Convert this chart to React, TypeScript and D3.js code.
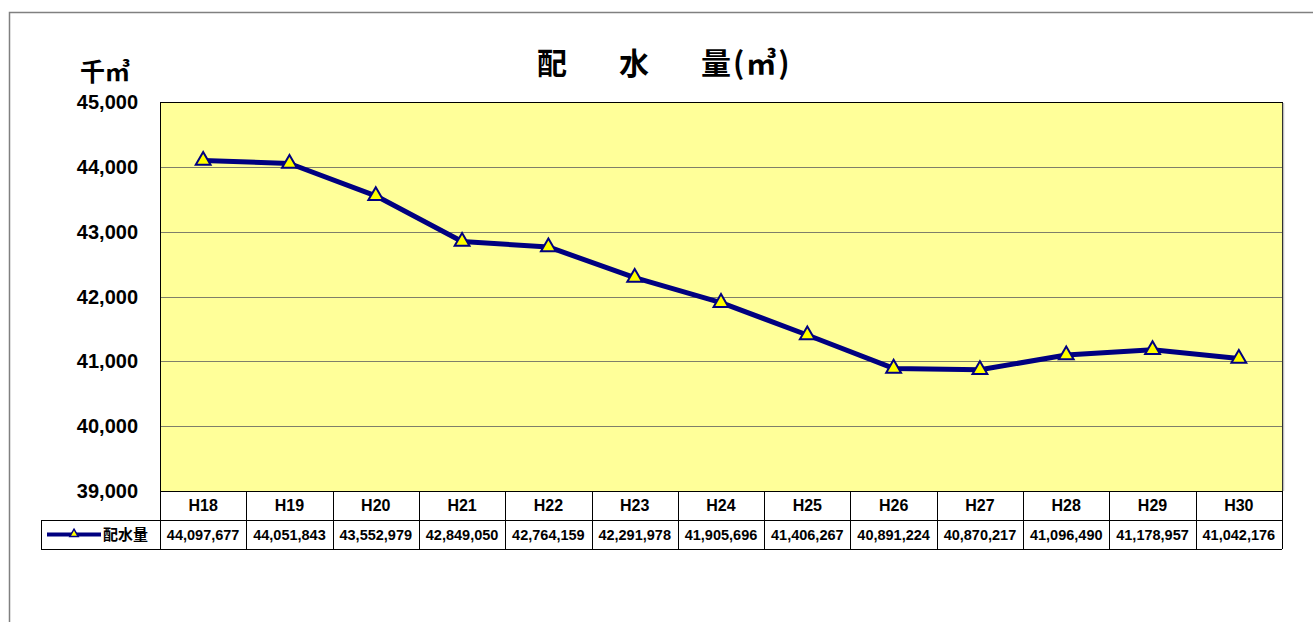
import * as d3 from "d3";

const years = ["H18", "H19", "H20", "H21", "H22", "H23", "H24", "H25", "H26", "H27", "H28", "H29", "H30"];
const haisui = [44097677, 44051843, 43552979, 42849050, 42764159, 42291978, 41905696, 41406267, 40891224, 40870217, 41096490, 41178957, 41042176];
const yTicks = [39000, 40000, 41000, 42000, 43000, 44000, 45000];
const seriesName = "配水量";

const W = 1313;
const H = 622;
const plot = { left: 160, right: 1282, top: 102, bottom: 491 };
const rowH = 29;
const legendLeft = 41;
const numFont = "'Liberation Sans', Arial, sans-serif";
const jpFont = "'Noto Sans CJK JP', sans-serif";
const navy = "#000080";

export default function App() {
  const x = d3.scaleBand().domain(years).range([plot.left, plot.right]);
  const y = d3.scaleLinear().domain([39000, 45000]).range([plot.bottom, plot.top]);
  const fmt = d3.format(",");
  const cx = (d: string) => x(d)! + x.bandwidth() / 2;

  const line = d3
    .line<number>()
    .x((_, i) => cx(years[i]))
    .y((v) => y(v / 1000));

  const tri = d3.symbol().type(d3.symbolTriangle).size(95)();
  const triSmall = d3.symbol().type(d3.symbolTriangle).size(30)();

  const row1 = plot.bottom;
  const row2 = plot.bottom + rowH;
  const row3 = plot.bottom + rowH * 2;

  return (
    <svg width={W} height={H} style={{ position: "fixed", left: 0, top: 0, background: "#fff" }}>
      {/* outer frame */}
      <path d={`M9.5,${H} V12.5 H${W}`} fill="none" stroke="#808080" strokeWidth={1.5} />

      {/* title */}
      <g fontFamily={jpFont} fontWeight="bold" fontSize={30} fill="#000">
        <text x={552} y={74} textAnchor="middle">配</text>
        <text x={634} y={74} textAnchor="middle">水</text>
        <text x={701} y={74} letterSpacing={2}>量(㎥)</text>
      </g>
      <text x={80} y={81} fontFamily={jpFont} fontWeight="bold" fontSize={25}>
        千㎥
      </text>

      {/* plot area */}
      <rect x={plot.left} y={plot.top} width={plot.right - plot.left} height={plot.bottom - plot.top} fill="#ffff99" />
      {yTicks.slice(1, -1).map((t) => (
        <line key={t} x1={plot.left} x2={plot.right} y1={Math.round(y(t)) + 0.5} y2={Math.round(y(t)) + 0.5} stroke="#7f7f6a" strokeWidth={1} />
      ))}
      <rect x={plot.left + 0.5} y={plot.top + 0.5} width={plot.right - plot.left} height={plot.bottom - plot.top} fill="none" stroke="#000" strokeWidth={1} />
      <line x1={plot.right + 1.5} x2={plot.right + 1.5} y1={plot.top + 1} y2={plot.bottom} stroke="#c0c0c0" strokeWidth={1.5} />

      {yTicks.map((t) => (
        <text key={t} x={138} y={y(t) + 7} textAnchor="end" fontFamily={numFont} fontWeight="bold" fontSize={20}>
          {fmt(t)}
        </text>
      ))}

      {/* series */}
      <path d={line(haisui) || ""} fill="none" stroke={navy} strokeWidth={5} strokeLinejoin="round" />
      {haisui.map((v, i) => (
        <path key={i} d={tri!} transform={`translate(${cx(years[i])},${y(v / 1000)})`} fill="#ffff00" stroke={navy} strokeWidth={2} />
      ))}

      {/* data table */}
      <g stroke="#000" strokeWidth={1} fill="none">
        <line x1={plot.left} x2={plot.right} y1={row2 + 0.5} y2={row2 + 0.5} />
        <line x1={legendLeft} x2={plot.left} y1={row2 + 0.5} y2={row2 + 0.5} />
        <line x1={legendLeft} x2={plot.right} y1={row3 + 0.5} y2={row3 + 0.5} />
        <line x1={legendLeft + 0.5} x2={legendLeft + 0.5} y1={row2} y2={row3} />
        <line x1={plot.left + 0.5} x2={plot.left + 0.5} y1={row1} y2={row3} />
        {years.map((yr) => (
          <line key={yr} x1={Math.round(x(yr)! + x.bandwidth()) + 0.5} x2={Math.round(x(yr)! + x.bandwidth()) + 0.5} y1={row1} y2={row3} />
        ))}
      </g>
      {years.map((yr, i) => (
        <g key={yr} fontFamily={numFont} fontWeight="bold" textAnchor="middle">
          <text x={cx(yr)} y={row1 + 20} fontSize={16}>{yr}</text>
          <text x={cx(yr)} y={row2 + 20} fontSize={14.5}>{fmt(haisui[i])}</text>
        </g>
      ))}

      {/* legend */}
      <line x1={47} x2={101} y1={row2 + 14.5} y2={row2 + 14.5} stroke={navy} strokeWidth={4} />
      <path d={triSmall!} transform={`translate(74,${row2 + 14})`} fill="#ffff00" stroke={navy} strokeWidth={1.5} />
      <text x={103} y={row2 + 20} fontFamily={jpFont} fontWeight="bold" fontSize={15}>
        {seriesName}
      </text>
    </svg>
  );
}
